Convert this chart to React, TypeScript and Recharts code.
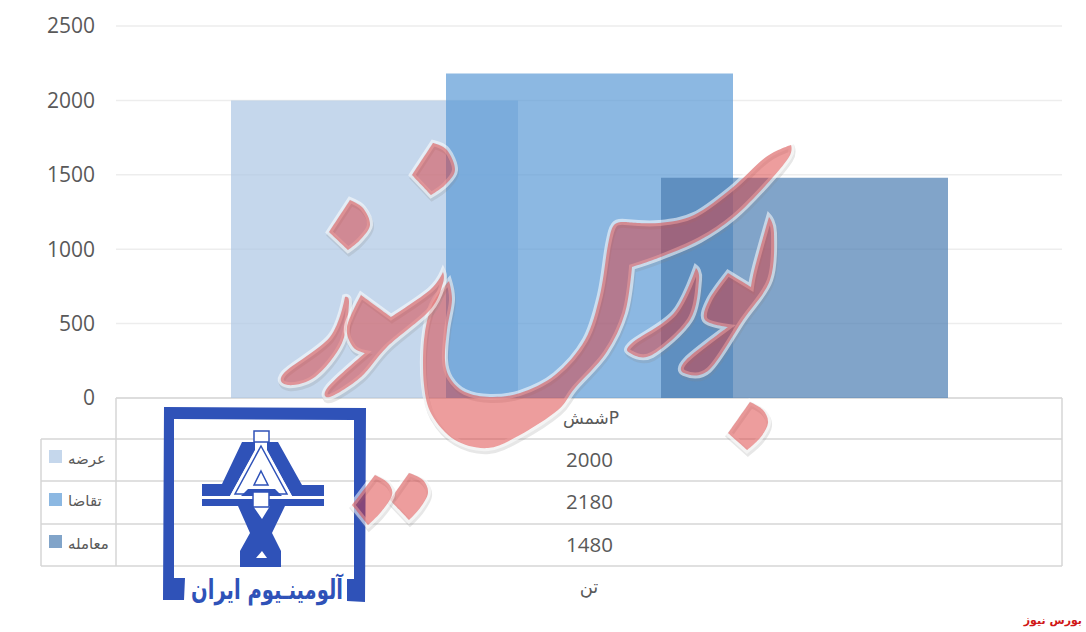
import { BarChart, Bar, XAxis, YAxis, CartesianGrid } from "recharts";

const categories = ["Pشمش"];
const seriesNames = ["عرضه", "تقاضا", "معامله"];
const supply = [2000];
const demand = [2180];
const traded = [1480];
const yTicks = [0, 500, 1000, 1500, 2000, 2500];
const unitLabel = "تن";
const sourceLabel = "بورس نیوز";
const logoLabel = "آلومینـیوم ایران";

const COLORS = ["#ACC6E4", "#5B9AD5", "#4B7EB2"];
const LINE = "#D6D6D6";
const TEXT = "#595959";
const LOGO = "#2F52B8";

const chartData = categories.map((name, i) => ({
  name,
  supply: supply[i],
  demand: demand[i],
  traded: traded[i],
}));
const seriesValues = [supply[0], demand[0], traded[0]];

// watermark outline. a third value of 1 marks a sharp corner
const WATERMARK = [
  [[433,143,1],[447,150],[455,170],[445,185],[431,195,1],[412,175,1]],
  [[350,200,1],[363,208],[370,225],[360,240],[348,250,1],[329,232,1]],
  [[791,145,1],[789,157],[766,185],[734,217],[700,240],[661,257],[632,267,1],[625,313],[606,353],[575,388],[558,410],[520,435],[488,448],[455,440],[432,415],[424,385],[424,340],[432,305],[449,281,1],[452,300],[447,330],[445,360],[450,378],[465,392],[490,397],[520,393],[555,375],[585,340],[600,295],[608,245],[614,225],[625,222,1],[659,223],[694,215],[732,188],[766,157]],
  [[696,268,1],[674,313],[632,343],[630,353],[652,355],[690,320],[699,280]],
  [[769,217,1],[755,267],[751,287,1],[728,273,1],[709,300],[705,320],[728,327,1],[686,360],[684,373],[709,370],[743,320],[770,280],[774,233]],
  [[345,297,1],[330,337],[284,373],[288,385],[315,377],[342,343],[349,303]],
  [[443,272,1],[430,290],[391,317,1],[361,295,1],[347,327],[353,347],[365,353,1],[328,387],[330,397],[361,377],[387,347],[430,310],[443,283]],
  [[750,402,1],[763,410],[768,423],[760,438],[747,450,1],[728,433,1]],
  [[409,473,1],[423,480],[428,493],[420,508],[409,520,1],[390,500,1]],
  [[375,475,1],[388,483],[392,495],[381,512],[368,525,1],[352,505,1]],
];

function smooth(points: number[][]) {
  const n = points.length;
  let d = `M${points[0][0]} ${points[0][1]}`;
  for (let i = 0; i < n; i++) {
    const [p0, p1, p2, p3] = [points[(i - 1 + n) % n], points[i], points[(i + 1) % n], points[(i + 2) % n]];
    const c1 = p1[2] ? p1 : [p1[0] + (p2[0] - p0[0]) / 6, p1[1] + (p2[1] - p0[1]) / 6];
    const c2 = p2[2] ? p2 : [p2[0] - (p3[0] - p1[0]) / 6, p2[1] - (p3[1] - p1[1]) / 6];
    d += `C${c1[0]} ${c1[1]} ${c2[0]} ${c2[1]} ${p2[0]} ${p2[1]}`;
  }
  return d + "Z";
}

function DataTable() {
  const rows = [439, 481, 524, 566];
  const keyY = [450, 493, 535];
  const textY = [459, 501, 544];
  const font = "'DejaVu Sans'";
  return (
    <g>
      <line x1={116} x2={1062} y1={398} y2={398} stroke={LINE} strokeWidth={1.5} />
      {rows.map((y) => (
        <line key={y} x1={41} x2={1062} y1={y} y2={y} stroke={LINE} strokeWidth={1.5} />
      ))}
      <line x1={41} x2={41} y1={439} y2={566} stroke={LINE} strokeWidth={1.5} />
      <line x1={116} x2={116} y1={398} y2={566} stroke={LINE} strokeWidth={1.5} />
      <line x1={1062} x2={1062} y1={398} y2={566} stroke={LINE} strokeWidth={1.5} />
      <text x={591} y={418} textAnchor="middle" dominantBaseline="central" fill={TEXT}
        style={{ fontFamily: font, fontSize: 17, direction: "rtl" }}>
        {categories[0]}
      </text>
      {seriesNames.map((name, i) => (
        <g key={name}>
          <rect x={49} y={keyY[i]} width={13} height={13} fill={COLORS[i]} fillOpacity={0.7} />
          <text x={68} y={textY[i]} dominantBaseline="central" fill={TEXT}
            style={{ fontFamily: font, fontSize: 15 }}>
            {name}
          </text>
          <text x={589.5} y={textY[i]} textAnchor="middle" dominantBaseline="central" fill={TEXT}
            style={{ fontFamily: "'Open Sans'", fontSize: 20.5 }}>
            {seriesValues[i]}
          </text>
        </g>
      ))}
      <text x={589} y={586} textAnchor="middle" dominantBaseline="central" fill={TEXT}
        style={{ fontFamily: font, fontSize: 18 }}>
        {unitLabel}
      </text>
      <text x={1082} y={620} textAnchor="end" dominantBaseline="central" fill="#D01616"
        style={{ fontFamily: font, fontSize: 11, fontWeight: 700 }}>
        {sourceLabel}
      </text>
    </g>
  );
}

function Watermark() {
  return (
    <svg width={1086} height={632} style={{ position: "absolute", left: 0, top: 0, pointerEvents: "none" }}>
      {WATERMARK.map((pts, i) => (
        <g key={i}>
          <path d={smooth(pts)} transform="translate(1 3)" fill="none" stroke="#888" strokeOpacity={0.2} strokeWidth={6} />
          <path d={smooth(pts)} fill="none" stroke="#fff" strokeOpacity={0.55} strokeWidth={6} />
          <path d={smooth(pts)} fill="#DC3C3C" fillOpacity={0.5} />
        </g>
      ))}
    </svg>
  );
}

function Logo() {
  return (
    <g>
      <path fill={LOGO} d="M164 407L366 408L365 602L347 601L347 579L354 579L354 420L174 419L174 578L185 578L184 600L163 600Z" />
      <path fill={LOGO} d="M242 442L255 442L255 450L230 496L202 496L202 484L222 484Z" />
      <path fill={LOGO} d="M278 442L267 442L267 450L292 496L324 496L324 485L302 485Z" />
      <path fill="#fff" d="M261 440L292 496L230 496Z" />
      <path fill="none" stroke={LOGO} strokeWidth={1.5} d="M261 446L287 494L235 494Z" />
      <rect x={254} y={431} width={15} height={11} fill="#fff" stroke={LOGO} strokeWidth={1.5} />
      <path fill="none" stroke={LOGO} strokeWidth={1.5} d="M261 471L268 485L254 485Z" />
      <path fill={LOGO} d="M248 489L275 489L282 496L241 496Z" />
      <rect x={202} y={499} width={122} height={7} fill={LOGO} />
      <path fill={LOGO} d="M238 506L253 506L262 519L270 506L285 506L272 533L281 551L281 567L240 567L240 551L250 533Z" />
      <path fill="#fff" d="M262 551L267 558L256 558Z" />
      <rect x={253} y={492} width={16} height={15} fill="#fff" stroke={LOGO} strokeWidth={1.5} />
      <text x={267} y={589} textAnchor="middle" dominantBaseline="central" fill={LOGO} textLength={152} lengthAdjust="spacingAndGlyphs"
        style={{ fontFamily: "'DejaVu Sans'", fontSize: 27, fontWeight: 700 }}>
        {logoLabel}
      </text>
    </g>
  );
}

export default function App() {
  return (
    <div style={{ position: "absolute", left: 0, top: 0, width: 1086, height: 632, background: "#fff" }}>
      <BarChart
        width={1086}
        height={632}
        data={chartData}
        margin={{ top: 26, right: 24, bottom: 234, left: 0 }}
        barSize={287}
        barGap={-72}
      >
        <CartesianGrid horizontal vertical={false} stroke="#EDEDED" strokeWidth={1.5} />
        <XAxis dataKey="name" hide />
        <YAxis
          width={116}
          domain={[0, 2500]}
          ticks={yTicks}
          axisLine={false}
          tickLine={false}
          tickSize={0}
          tickMargin={21}
          tick={{ fill: TEXT, fontSize: 21, fontFamily: "'Open Sans'" }}
        />
        <Bar dataKey="supply" fill={COLORS[0]} fillOpacity={0.7} isAnimationActive={false} />
        <Bar dataKey="demand" fill={COLORS[1]} fillOpacity={0.7} isAnimationActive={false} />
        <Bar dataKey="traded" fill={COLORS[2]} fillOpacity={0.7} isAnimationActive={false} />
        <DataTable />
        <Logo />
      </BarChart>
      <Watermark />
    </div>
  );
}
